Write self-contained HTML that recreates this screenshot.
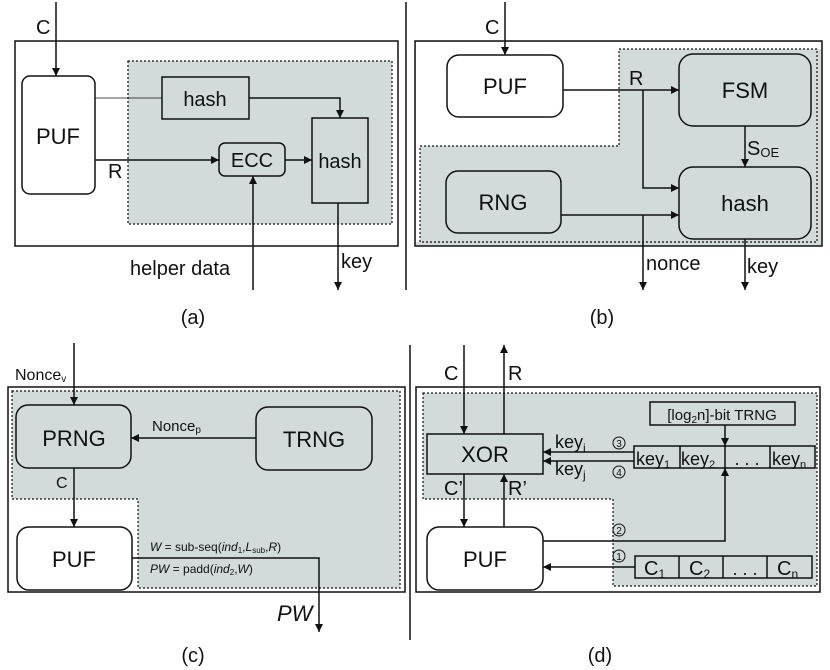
<!DOCTYPE html>
<html><head><meta charset="utf-8"><style>
body{margin:0;background:#fff}
svg{display:block}
text{font-family:"Liberation Sans",Arial,sans-serif;fill:#111}
</style></head><body>
<svg width="830" height="670" viewBox="0 0 830 670" xmlns="http://www.w3.org/2000/svg">
<defs>
<marker id="a" viewBox="0 0 10 10" refX="10" refY="5" markerWidth="8" markerHeight="8" orient="auto" markerUnits="userSpaceOnUse"><path d="M0,0 L10,5 L0,10 z" fill="#111"/></marker>
</defs>
<g stroke="#111" fill="none" stroke-width="1.5">
<line x1="406" y1="2" x2="406" y2="290"/>
<line x1="410" y1="345" x2="410" y2="640"/>

<!-- (a) -->
<rect x="15" y="41" width="383" height="205"/>
<rect x="128" y="61" width="264" height="163" fill="#d2dada" stroke-dasharray="2,2" stroke-width="1.2"/>
<rect x="22" y="76" width="73" height="118" rx="8" fill="#fff"/>
<rect x="162" y="77" width="87" height="42" fill="#d2dada"/>
<rect x="312" y="118" width="56" height="85" fill="#d2dada"/>
<rect x="219" y="143" width="66" height="33" rx="6" fill="#d2dada"/>
<line x1="56" y1="2" x2="56" y2="76" marker-end="url(#a)"/>
<line x1="95" y1="98" x2="162" y2="98" stroke-width="0.8"/>
<polyline points="249,98 340,98 340,118" marker-end="url(#a)"/>
<line x1="95" y1="160" x2="219" y2="160" marker-end="url(#a)"/>
<line x1="285" y1="160" x2="312" y2="160" marker-end="url(#a)"/>
<line x1="253" y1="290" x2="253" y2="176" marker-end="url(#a)"/>
<line x1="338" y1="203" x2="338" y2="290" marker-end="url(#a)"/>

<!-- (b) -->
<rect x="415" y="41" width="407" height="205" fill="#d2dada" stroke="none"/>
<polygon points="416,42 821,42 821,49 619,49 619,146 420,146 420,242 416,242 416,245 416,42" fill="#fff" stroke="none"/>
<polygon points="619,49 817,49 817,242 420,242 420,146 619,146" stroke-dasharray="2,2" stroke-width="1.2"/>
<rect x="415" y="41" width="407" height="205"/>
<rect x="447" y="55" width="116" height="62" rx="12" fill="#fff"/>
<rect x="679" y="54" width="132" height="72" rx="14" fill="#d2dada"/>
<rect x="679" y="167" width="132" height="72" rx="14" fill="#d2dada"/>
<rect x="446" y="171" width="115" height="62" rx="12" fill="#d2dada"/>
<line x1="505" y1="2" x2="505" y2="55" marker-end="url(#a)"/>
<line x1="563" y1="90" x2="679" y2="90" marker-end="url(#a)"/>
<polyline points="643,90 643,188 679,188" marker-end="url(#a)"/>
<line x1="561" y1="215" x2="679" y2="215" marker-end="url(#a)"/>
<line x1="643" y1="215" x2="643" y2="290" marker-end="url(#a)"/>
<line x1="745" y1="126" x2="745" y2="167" marker-end="url(#a)"/>
<line x1="745" y1="239" x2="745" y2="290" marker-end="url(#a)"/>

<!-- (c) -->
<rect x="8" y="387" width="397" height="205"/>
<polygon points="12,391 400,391 400,588 138,588 138,499 12,499" fill="#d2dada" stroke-dasharray="2,2" stroke-width="1.2"/>
<rect x="16" y="405" width="115" height="63" rx="12" fill="#d2dada"/>
<rect x="256" y="407" width="116" height="63" rx="12" fill="#d2dada"/>
<rect x="17" y="527" width="115" height="63" rx="12" fill="#fff"/>
<line x1="74" y1="343" x2="74" y2="405" marker-end="url(#a)"/>
<line x1="256" y1="438" x2="131" y2="438" marker-end="url(#a)"/>
<line x1="74" y1="468" x2="74" y2="527" marker-end="url(#a)"/>
<polyline points="132,558 319,558 319,632" marker-end="url(#a)"/>

<!-- (d) -->
<rect x="416" y="387" width="404" height="205"/>
<polygon points="423,393 817,393 817,586 613,586 613,499 423,499" fill="#d2dada" stroke-dasharray="2,2" stroke-width="1.2"/>
<rect x="427" y="434" width="116" height="40" fill="#d2dada"/>
<rect x="427" y="527" width="116" height="63" rx="12" fill="#fff"/>
<line x1="464" y1="345" x2="464" y2="434" marker-end="url(#a)"/>
<line x1="504" y1="434" x2="504" y2="345" marker-end="url(#a)"/>
<line x1="464" y1="474" x2="464" y2="527" marker-end="url(#a)"/>
<line x1="504" y1="527" x2="504" y2="474" marker-end="url(#a)"/>
<rect x="650" y="402" width="145" height="23" fill="#d2dada"/>
<rect x="634" y="446" width="181" height="22" fill="#d2dada"/>
<line x1="680" y1="446" x2="680" y2="468"/>
<line x1="725" y1="446" x2="725" y2="468"/>
<line x1="770" y1="446" x2="770" y2="468"/>
<line x1="725" y1="425" x2="725" y2="446" marker-end="url(#a)"/>
<line x1="634" y1="452" x2="543" y2="452" marker-end="url(#a)"/>
<line x1="634" y1="461" x2="543" y2="461" marker-end="url(#a)"/>
<polyline points="543,541 725,541 725,468" marker-end="url(#a)"/>
<rect x="635" y="556" width="177" height="22" fill="#d2dada"/>
<line x1="679" y1="556" x2="679" y2="578"/>
<line x1="723" y1="556" x2="723" y2="578"/>
<line x1="767" y1="556" x2="767" y2="578"/>
<line x1="635" y1="567" x2="543" y2="567" marker-end="url(#a)"/>
<g stroke-width="1"><circle cx="619" cy="443" r="6"/><circle cx="619" cy="472" r="6"/><circle cx="619" cy="530" r="6"/><circle cx="619" cy="556" r="6"/></g>
</g>

<g font-size="20">
<text x="36" y="34">C</text>
<text x="58" y="144" text-anchor="middle" font-size="22">PUF</text>
<text x="205" y="106" text-anchor="middle">hash</text>
<text x="340" y="168" text-anchor="middle">hash</text>
<text x="252" y="167" text-anchor="middle">ECC</text>
<text x="108" y="178">R</text>
<text x="130" y="275">helper data</text>
<text x="341" y="268">key</text>
<text x="193" y="324" text-anchor="middle">(a)</text>
<text x="485" y="34">C</text>
<text x="505" y="94" text-anchor="middle" font-size="22">PUF</text>
<text x="745" y="98" text-anchor="middle" font-size="22">FSM</text>
<text x="745" y="211" text-anchor="middle" font-size="22">hash</text>
<text x="503" y="210" text-anchor="middle" font-size="22">RNG</text>
<text x="629" y="85">R</text>
<text x="747" y="155">S<tspan font-size="13" dy="2">OE</tspan></text>
<text x="646" y="270">nonce</text>
<text x="747" y="273">key</text>
<text x="602" y="324" text-anchor="middle">(b)</text>
<text x="15" y="380" font-size="16">Nonce<tspan font-size="10" dy="2">v</tspan></text>
<text x="74" y="446" text-anchor="middle" font-size="22">PRNG</text>
<text x="314" y="447" text-anchor="middle" font-size="22">TRNG</text>
<text x="74" y="567" text-anchor="middle" font-size="22">PUF</text>
<text x="152" y="431" font-size="15">Nonce<tspan font-size="10" dy="2">p</tspan></text>
<text x="56" y="488" font-size="16">C</text>
<text x="150" y="551" font-size="12"><tspan font-style="italic">W</tspan> = sub-seq(<tspan font-style="italic">ind</tspan><tspan font-size="8" dy="2">1</tspan><tspan dy="-2">,</tspan><tspan font-style="italic">L</tspan><tspan font-size="8" dy="2">sub</tspan><tspan dy="-2">,</tspan><tspan font-style="italic">R</tspan>)</text>
<text x="150" y="573" font-size="12"><tspan font-style="italic">PW</tspan> = padd(<tspan font-style="italic">ind</tspan><tspan font-size="8" dy="2">2</tspan><tspan dy="-2">,</tspan><tspan font-style="italic">W</tspan>)</text>
<text x="277" y="621" font-size="22" font-style="italic">PW</text>
<text x="193" y="662" text-anchor="middle">(c)</text>
<text x="444" y="380">C</text>
<text x="508" y="380">R</text>
<text x="485" y="462" text-anchor="middle" font-size="22">XOR</text>
<text x="485" y="567" text-anchor="middle" font-size="22">PUF</text>
<text x="444" y="495">C’</text>
<text x="508" y="495">R’</text>
<text x="555" y="448" font-size="18">key<tspan font-size="12" dy="4">i</tspan></text>
<text x="555" y="475" font-size="18">key<tspan font-size="12" dy="4">j</tspan></text>
<text x="722" y="420" text-anchor="middle" font-size="15">[log<tspan font-size="10" dy="3">2</tspan><tspan dy="-3">n]-bit TRNG</tspan></text>
<text x="636" y="465" font-size="18">key<tspan font-size="11" dy="3">1</tspan></text>
<text x="681" y="465" font-size="18">key<tspan font-size="11" dy="3">2</tspan></text>
<text x="747" y="465" font-size="18" text-anchor="middle">. . .</text>
<text x="772" y="465" font-size="18">key<tspan font-size="11" dy="3">n</tspan></text>
<text x="644" y="575" font-size="20">C<tspan font-size="12" dy="3">1</tspan></text>
<text x="689" y="575" font-size="20">C<tspan font-size="12" dy="3">2</tspan></text>
<text x="745" y="575" font-size="18" text-anchor="middle">. . .</text>
<text x="777" y="575" font-size="20">C<tspan font-size="12" dy="3">n</tspan></text>
<g font-size="10" text-anchor="middle"><text x="619" y="447">3</text><text x="619" y="476">4</text><text x="619" y="534">2</text><text x="619" y="560">1</text></g>
<text x="600" y="662" text-anchor="middle">(d)</text>
</g>
</svg>
</body></html>
